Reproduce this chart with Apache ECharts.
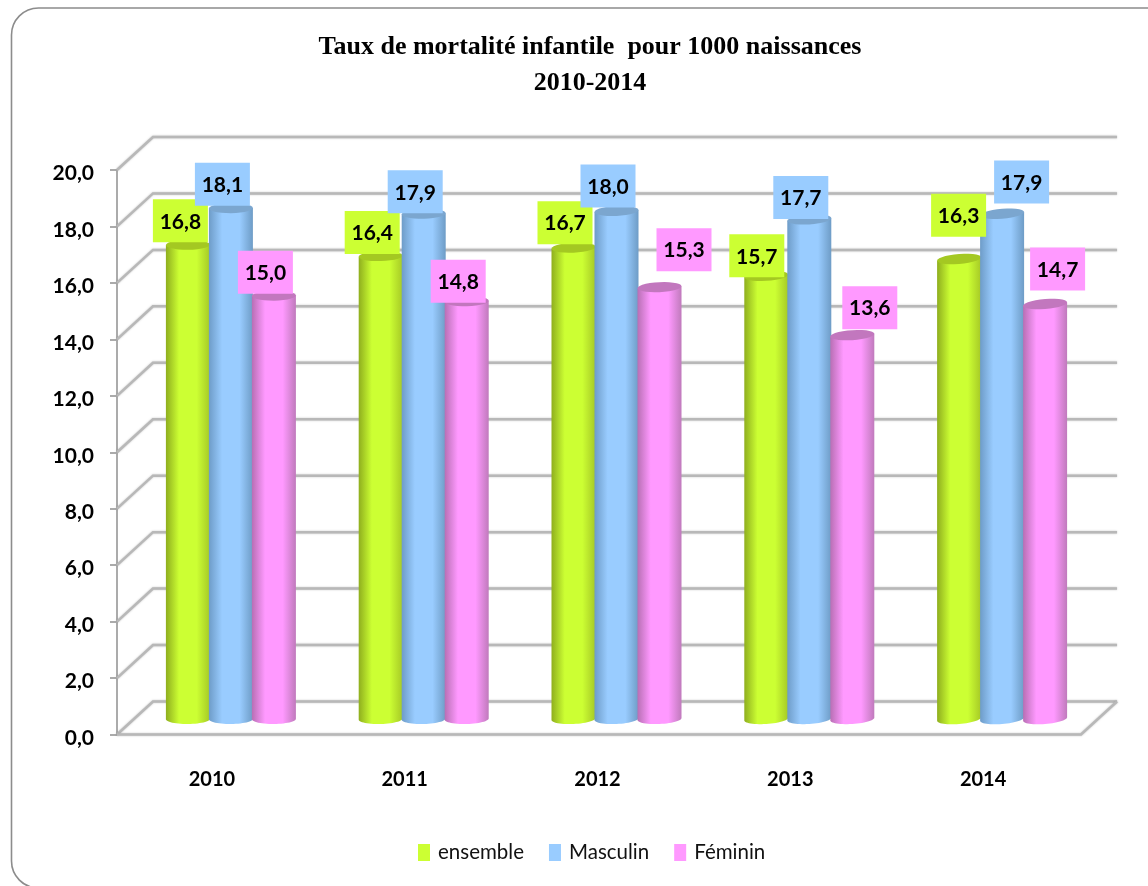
<!DOCTYPE html>
<html><head><meta charset="utf-8">
<style>html,body{margin:0;padding:0;background:#fff}#c{width:1148px;height:886px}</style>
<script src="https://cdn.jsdelivr.net/npm/echarts@6/dist/echarts.min.js"></script>
</head><body><div id="c"></div>
<script>
const categories = ['2010','2011','2012','2013','2014'];
const ensemble = [16.8,16.4,16.7,15.7,16.3];
const masculin = [18.1,17.9,18.0,17.7,17.9];
const feminin  = [15.0,14.8,15.3,13.6,14.7];
const yTicks = [0,2,4,6,8,10,12,14,16,18,20];

// label box offset from the top centre of its cylinder (moved by hand in the original)
const ensembleLabelShift = [[-6,-24],[-7,-23.5],[-7,-25],[-8,-20],[1,-43.6]];
const masculinLabelShift = [[-7,-24],[-7,-22],[-7,-25],[-7,-22],[21,-31.7]];
const femininLabelShift  = [[-7,-23.5],[-7,-20],[26,-37.5],[19,-27.5],[14,-35]];

const DEPTH_X = 36, DEPTH_Y = 33;
const BAR_DX = 17.5, BAR_DY = 15.5, BAR_STEP = 43, BAR_R = 22, ELL_RY = 5;
const LABEL_FONT = 'Lato, "Noto Sans", sans-serif';

const palette = [
  {name:'ensemble', values:ensemble, shift:ensembleLabelShift, color:'#CCFF33', edgeL:'#8FAE1E', edgeR:'#A6C926', top:'#A4C822', off:-1},
  {name:'Masculin', values:masculin, shift:masculinLabelShift, color:'#99CCFF', edgeL:'#6E9CC8', edgeR:'#6E9CC6', top:'#7BA6CF', off:0},
  {name:'Féminin',  values:feminin,  shift:femininLabelShift,  color:'#FF99FF', edgeL:'#B86FB4', edgeR:'#C07ABC', top:'#C277BE', off:1}
];

function arc(cx, cy, rx, ry, tilt, a0, a1) {
  const pts = [], n = 28;
  for (let i = 0; i <= n; i++) {
    const a = a0 + (a1 - a0) * i / n;
    const x = rx * Math.cos(a), y = ry * Math.sin(a);
    pts.push([cx + x, cy + y - x * tilt]);
  }
  return pts;
}
function barFrame(api, p) {
  const base = api.coord([api.value(0), 0]);
  const top = api.coord([api.value(0), api.value(1)]);
  const cx = base[0] + BAR_DX + p.off * BAR_STEP;
  return {cx, yb: base[1] - BAR_DY, yt: top[1] - BAR_DY, tilt: 0.01 + 0.07 * api.value(0) / 4};
}
function renderBar(p) {
  return function (params, api) {
    const f = barFrame(api, p);
    const bottom = arc(f.cx, f.yb, BAR_R, ELL_RY, f.tilt, Math.PI, 0);
    const grad = new echarts.graphic.LinearGradient(0,0,1,0,[
      {offset:0, color:p.edgeL},{offset:0.3, color:p.color},{offset:0.7, color:p.color},{offset:1, color:p.edgeR}
    ]);
    return {type:'group', children:[
      {type:'polygon', shape:{points: bottom.concat([[f.cx+BAR_R, f.yt-BAR_R*f.tilt],[f.cx-BAR_R, f.yt+BAR_R*f.tilt]])}, style:{fill:grad}},
      {type:'polygon', shape:{points: arc(f.cx, f.yt, BAR_R, ELL_RY, f.tilt, 0, 2*Math.PI)}, style:{fill:p.top}}
    ]};
  };
}
function renderLabel(p) {
  return function (params, api) {
    const f = barFrame(api, p);
    const s = p.shift[api.value(0)];
    const x = f.cx + s[0] - 1.5, y = f.yt + s[1];
    return {type:'group', children:[
      {type:'rect', shape:{x:x-27.5, y:y-21.5, width:55, height:43}, style:{fill:p.color}},
      {type:'text', x:x, y:y+1, style:{text:api.value(1).toFixed(1).replace('.',','), fill:'#000',
        font:'bold 21px '+LABEL_FONT, align:'center', verticalAlign:'middle'}}
    ]};
  };
}
function renderWall(params, api) {
  const v = api.value(0);
  const cs = params.coordSys;
  const y = api.coord([0, v])[1];
  const xl = cs.x, xr = cs.x + cs.width;
  const line = {stroke:'#B8B8B8', lineWidth:2.5, fill:null, shadowBlur:2, shadowColor:'rgba(120,120,120,0.45)'};
  const kids = [
    {type:'polyline', shape:{points:[[xl,y],[xl+DEPTH_X,y-DEPTH_Y],[xr+DEPTH_X,y-DEPTH_Y]]}, style:line}
  ];
  if (v === 0) kids.push({type:'polyline', shape:{points:[[xl,y],[xr,y],[xr+DEPTH_X,y-DEPTH_Y]]}, style:line});
  return {type:'group', children:kids};
}

const series = [{
  type:'custom', name:'wall', z:1, silent:true, coordinateSystem:'cartesian2d', clip:false,
  encode:{y:0}, data:yTicks.map(v=>[v]), renderItem:renderWall
}];
palette.forEach(p => series.push({
  type:'custom', name:p.name, z:3, silent:true, clip:false, itemStyle:{color:p.color},
  encode:{x:0,y:1}, data:p.values.map((v,i)=>[i,v]), renderItem:renderBar(p)
}));
palette.forEach(p => series.push({
  type:'custom', name:p.name+' étiquettes', z:5, silent:true, clip:false,
  encode:{x:0,y:1}, data:p.values.map((v,i)=>[i,v]), renderItem:renderLabel(p)
}));

const chart = echarts.init(document.getElementById('c'), null, {renderer:'canvas'});
chart.setOption({
  animation:false,
  backgroundColor:'#fff',
  title:{
    text:'Taux de mortalité infantile  pour 1000 naissances\n2010-2014',
    left:585, top:24, textAlign:'center',
    textStyle:{fontFamily:'"Liberation Serif", serif', fontWeight:'bold', fontSize:26, lineHeight:36, color:'#000'}
  },
  legend:{
    data:palette.map(p=>p.name), left:418, top:842, padding:0, icon:'rect', itemWidth:12, itemHeight:17, itemGap:25,
    selectedMode:false,
    textStyle:{fontFamily:LABEL_FONT, fontSize:20.5, color:'#111', padding:[0,0,0,3]}
  },
  graphic:[{type:'rect', silent:true, z:0, shape:{x:11.5,y:8,width:1180,height:880,r:27},
    style:{fill:'#fff',stroke:'#8C8C8C',lineWidth:1.6}}],
  grid:{left:117, top:170, width:964, height:564.5, containLabel:false},
  xAxis:{type:'category', data:categories, boundaryGap:true,
    axisLine:{show:false}, axisTick:{show:false},
    axisLabel:{margin:35, color:'#000', fontFamily:LABEL_FONT, fontWeight:'bold', fontSize:20, hideOverlap:false, lineHeight:20, padding:[0,3,0,0]}
  },
  yAxis:{type:'value', min:0, max:20, interval:2,
    axisLine:{show:true, lineStyle:{color:'#ABABAB', width:2}},
    axisTick:{show:true, length:7, lineStyle:{color:'#ABABAB', width:2}},
    splitLine:{show:false},
    axisLabel:{margin:23, color:'#000', fontFamily:LABEL_FONT, fontWeight:'bold', fontSize:21, verticalAlign:'top', lineHeight:7, formatter:v=>v.toFixed(1).replace('.',',')}
  },
  series
});
</script></body></html>
